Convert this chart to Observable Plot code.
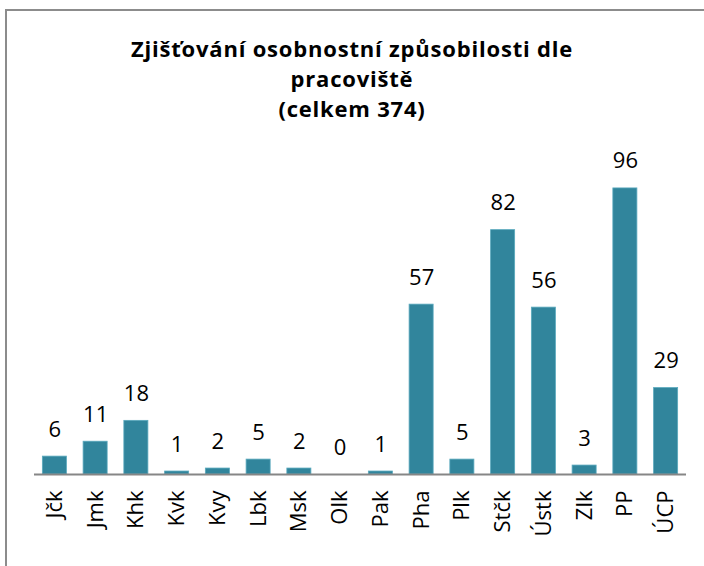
<!DOCTYPE html>
<html>
<head>
<meta charset="utf-8">
<script src="https://cdn.jsdelivr.net/npm/d3@7"></script>
<script src="https://cdn.jsdelivr.net/npm/@observablehq/plot@0.6"></script>
<style>
  html, body { margin: 0; padding: 0; width: 704px; height: 566px; overflow: hidden; background: #fff; }
  body { position: relative; font-family: "Open Sans", sans-serif; }
  #frame { position: absolute; left: 5px; top: 9px; width: 720px; height: 600px; border: 2px solid #8c8c8c; box-sizing: border-box; }
  #title { position: absolute; left: 0; top: 33px; width: 704px; text-align: center; font-weight: bold; font-size: 22px; line-height: 30px; letter-spacing: 0.8px; color: #000; }
  #title div { height: 30px; }
  #chart { position: absolute; left: 0; top: 130px; line-height: 0; }
  #chart svg { display: block; }
</style>
</head>
<body>
<div id="frame"></div>
<div id="title"><div>Zjišťování osobnostní způsobilosti dle</div><div>pracoviště</div><div>(celkem 374)</div></div>
<div id="chart"></div>
<script>
const categories = ["Jčk", "Jmk", "Khk", "Kvk", "Kvy", "Lbk", "Msk", "Olk", "Pak", "Pha", "Plk", "Stčk", "Ústk", "Zlk", "PP", "ÚCP"];
const values = [6, 11, 18, 1, 2, 5, 2, 0, 1, 57, 5, 82, 56, 3, 96, 29];

const data = categories.map((c, i) => ({category: c, value: values[i]}));

const chart = Plot.plot({
  width: 704,
  height: 436,
  marginTop: 46,
  marginBottom: 92,
  marginLeft: 34,
  marginRight: 18,
  style: {fontFamily: "'Open Sans', sans-serif", background: "transparent"},
  x: {domain: categories, paddingInner: 0.41, paddingOuter: 0.205, round: false, label: null},
  y: {domain: [0, 100], axis: null},
  marks: [
    Plot.barY(data, {x: "category", y: "value", fill: "#31859C", stroke: "#5aa9bd", strokeWidth: 0.8}),
    Plot.text(data, {x: "category", y: "value", text: d => String(d.value), lineAnchor: "middle", dy: -27, fontSize: 22, fill: "#000"}),
    Plot.ruleY([0], {stroke: "#868686", strokeWidth: 2}),
    Plot.axisX({tickSize: 0, tickPadding: 16, tickRotate: -90, fontSize: 22, fill: "#000", label: null})
  ]
});
document.getElementById("chart").appendChild(chart);
</script>
</body>
</html>
